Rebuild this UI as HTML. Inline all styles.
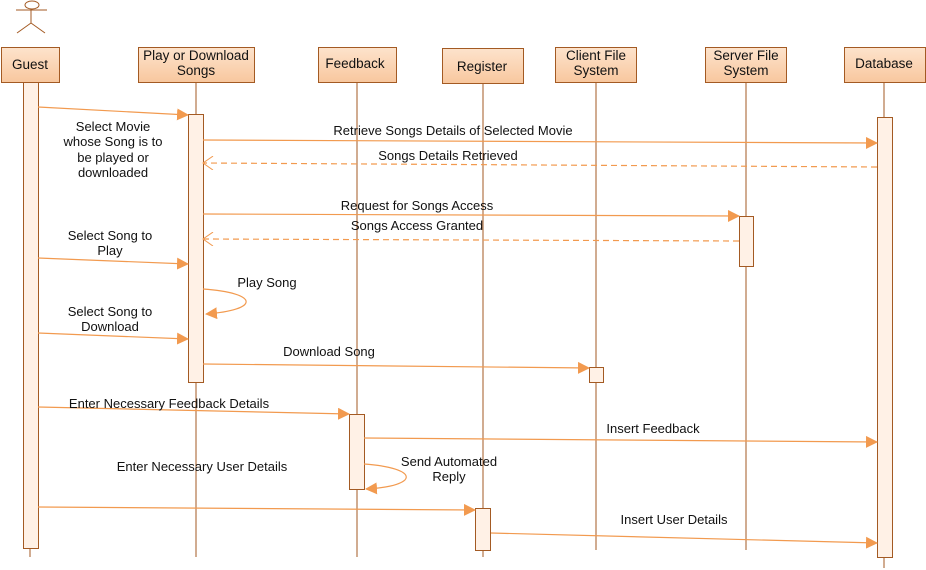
<!DOCTYPE html>
<html><head><meta charset="utf-8"><style>
html,body{margin:0;padding:0;background:#fff;}
svg{display:block;font-family:"Liberation Sans",sans-serif;}
</style></head><body>
<svg width="926" height="570" viewBox="0 0 926 570" xmlns="http://www.w3.org/2000/svg">
<defs>
<linearGradient id="g" x1="0" y1="0" x2="0" y2="1"><stop offset="0" stop-color="#fde3cc"/><stop offset="1" stop-color="#f8c79e"/></linearGradient>
<marker id="f" markerWidth="12" markerHeight="12" refX="11" refY="6" orient="auto" markerUnits="userSpaceOnUse"><path d="M0,0 L12,6 L0,12 Z" fill="#f29a4f"/></marker>
<marker id="o" markerWidth="12" markerHeight="14" refX="11" refY="7" orient="auto" markerUnits="userSpaceOnUse"><path d="M1,0 L11,7 L1,14" fill="none" stroke="#f29a4f" stroke-width="1"/></marker>
</defs>
<g stroke="#a35a23" stroke-width="1" fill="none">
<line x1="30" y1="82" x2="30" y2="557"/><line x1="196" y1="82" x2="196" y2="557"/><line x1="357" y1="82" x2="357" y2="557"/><line x1="483" y1="84" x2="483" y2="557"/><line x1="596" y1="82" x2="596" y2="550"/><line x1="746" y1="82" x2="746" y2="550"/><line x1="884" y1="82" x2="884" y2="568"/>
<ellipse cx="32" cy="5" rx="7" ry="4" /><line x1="31" y1="9" x2="31" y2="23"/><line x1="16" y1="10" x2="47" y2="10"/><line x1="31" y1="23" x2="17" y2="33"/><line x1="31" y1="23" x2="45" y2="33"/>
</g>
<g stroke="#a35a23" fill="url(#g)">
<rect x="1.5" y="47.5" width="58" height="35"/><rect x="138.5" y="47.5" width="116" height="35"/><rect x="318.5" y="47.5" width="78" height="35"/><rect x="442.5" y="48.5" width="81" height="35"/><rect x="555.5" y="47.5" width="81" height="35"/><rect x="705.5" y="47.5" width="81" height="35"/><rect x="844.5" y="47.5" width="81" height="35"/>
</g>
<g stroke="#a35a23" fill="#fff1e6">
<rect x="23.5" y="82.5" width="15" height="466"/><rect x="188.5" y="114.5" width="15" height="268"/><rect x="349.5" y="414.5" width="15" height="75"/><rect x="475.5" y="508.5" width="15" height="42"/><rect x="589.5" y="367.5" width="14" height="15"/><rect x="739.5" y="216.5" width="14" height="50"/><rect x="877.5" y="117.5" width="15" height="440"/>
</g>
<g font-size="13.5" fill="#111" text-anchor="middle">
<text x="30" y="69">Guest</text><text x="196" y="60">Play or Download</text><text x="196" y="75">Songs</text><text x="355" y="68">Feedback</text><text x="482" y="71">Register</text><text x="596" y="60">Client File</text><text x="596" y="75">System</text><text x="746" y="60">Server File</text><text x="746" y="75">System</text><text x="884" y="68">Database</text>
</g>
<g stroke="#f29a4f" stroke-width="1.2" fill="none">
<line x1="38" y1="107" x2="188" y2="115" marker-end="url(#f)"/>
<line x1="203" y1="140" x2="877" y2="143" marker-end="url(#f)"/>
<line x1="877" y1="167" x2="203" y2="163" stroke-dasharray="6,4" marker-end="url(#o)"/>
<line x1="203" y1="214" x2="739" y2="216" marker-end="url(#f)"/>
<line x1="739" y1="241" x2="203" y2="239" stroke-dasharray="6,4" marker-end="url(#o)"/>
<line x1="38" y1="258" x2="188" y2="264" marker-end="url(#f)"/>
<path d="M203,289 C260,293 260,310 206,314" marker-end="url(#f)"/>
<line x1="38" y1="333" x2="188" y2="339" marker-end="url(#f)"/>
<line x1="203" y1="364" x2="589" y2="368" marker-end="url(#f)"/>
<line x1="38" y1="407" x2="349" y2="414" marker-end="url(#f)"/>
<line x1="364" y1="438" x2="877" y2="442" marker-end="url(#f)"/>
<path d="M364,464 C420,468 420,486 366,489" marker-end="url(#f)"/>
<line x1="38" y1="507" x2="475" y2="510" marker-end="url(#f)"/>
<line x1="491" y1="533" x2="877" y2="543" marker-end="url(#f)"/>
</g>
<g font-size="13" fill="#111" text-anchor="middle">
<text x="113" y="131">Select Movie</text><text x="113" y="146">whose Song is to</text><text x="113" y="162">be played or</text><text x="113" y="177">downloaded</text>
<text x="453" y="135">Retrieve Songs Details of Selected Movie</text>
<text x="448" y="160">Songs Details Retrieved</text>
<text x="417" y="210">Request for Songs Access</text>
<text x="417" y="230">Songs Access Granted</text>
<text x="110" y="240">Select Song to</text><text x="110" y="255">Play</text>
<text x="267" y="287">Play Song</text>
<text x="110" y="316">Select Song to</text><text x="110" y="331">Download</text>
<text x="329" y="356">Download Song</text>
<text x="169" y="408">Enter Necessary Feedback Details</text>
<text x="653" y="433">Insert Feedback</text>
<text x="202" y="471">Enter Necessary User Details</text>
<text x="449" y="466">Send Automated</text><text x="449" y="481">Reply</text>
<text x="674" y="524">Insert User Details</text>
</g>
</svg>
</body></html>
